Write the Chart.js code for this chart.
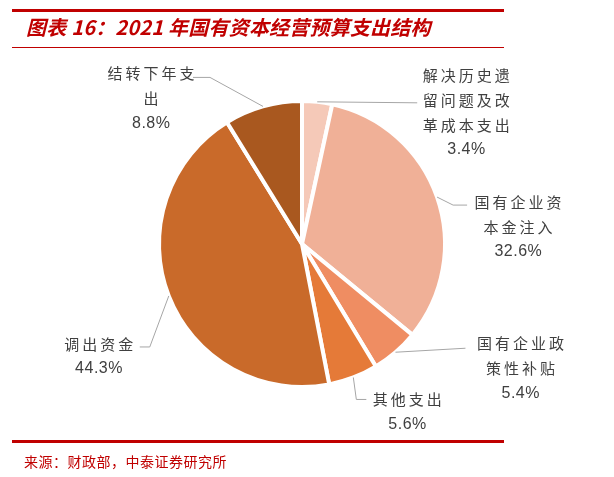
<!DOCTYPE html>
<html>
<head>
<meta charset="utf-8">
<script src="https://cdn.jsdelivr.net/npm/chart.js@4"></script>
<style>
  body { margin: 0; background: #fff; }
  #wrap { position: relative; width: 614px; height: 477px; overflow: hidden; }
  #chart { position: absolute; left: 0; top: 0; }
  .rule { position: absolute; left: 12px; width: 492px; background: #c00000; }
  #title {
    position: absolute; left: 26px; top: 14px;
    font-family: "Noto Sans CJK SC", sans-serif; font-weight: bold; font-style: italic;
    font-size: 20px; line-height: 26px; color: #c00000; white-space: nowrap;
    letter-spacing: 0.2px;
  }
  #source {
    position: absolute; left: 24px; top: 451px;
    font-family: "Noto Sans CJK SC", sans-serif; font-size: 14px; line-height: 20px;
    letter-spacing: 0.5px; color: #c00000; white-space: nowrap;
  }
</style>
</head>
<body>
<div id="wrap">
  <canvas id="chart" width="614" height="477"></canvas>
  <div class="rule" style="top:9px;height:3px"></div>
  <div id="title">图表 16：2021 年国有资本经营预算支出结构</div>
  <div class="rule" style="top:47px;height:1px"></div>
  <div class="rule" style="top:440px;height:3px"></div>
  <div id="source">来源：财政部，中泰证券研究所</div>
</div>
<script>
const categories = [
  "解决历史遗留问题及改革成本支出",
  "国有企业资本金注入",
  "国有企业政策性补贴",
  "其他支出",
  "调出资金",
  "结转下年支出",
];
const shares = [3.4, 32.6, 5.4, 5.6, 44.3, 8.8];
const colors = ["#f5c9b8", "#f0b097", "#ef8d62", "#e57a38", "#c96a2a", "#a9581f"];

// leader line bends and text spot, relative to the point on the slice edge
const labelLayout = [
  { path: [[100, 1]], text: [149, -27] },
  { path: [[16, 8], [30, 8]], text: [81, 5] },
  { path: [[70, -4]], text: [125, -9] },
  { path: [[3, 22], [13, 22]], text: [54, 22] },
  { path: [[-19, 51], [-29, 51]], text: [-70, 48] },
  { path: [[-53, -29], [-70, -29]], text: [-112, -33] },
];

function wrapLabel(s, n) {
  const out = [];
  for (let i = 0; i < s.length; i += n) out.push(s.slice(i, i + n));
  return out;
}

const sliceLabels = {
  id: "sliceLabels",
  afterDatasetsDraw(chart) {
    const ctx = chart.ctx;
    const meta = chart.getDatasetMeta(0);
    meta.data.forEach((arc, i) => {
      const p = arc.getProps(["x", "y", "startAngle", "endAngle", "outerRadius"]);
      const mid = (p.startAngle + p.endAngle) / 2;
      const ax = p.x + Math.cos(mid) * p.outerRadius;
      const ay = p.y + Math.sin(mid) * p.outerRadius;
      const lay = labelLayout[i];

      ctx.save();
      ctx.strokeStyle = "#a6a6a6";
      ctx.lineWidth = 1;
      ctx.beginPath();
      ctx.moveTo(ax, ay);
      lay.path.forEach(([dx, dy]) => ctx.lineTo(ax + dx, ay + dy));
      ctx.stroke();

      const tx = ax + lay.text[0];
      let ty = ay + lay.text[1];
      ctx.fillStyle = "#404040";
      ctx.textAlign = "center";
      ctx.textBaseline = "middle";
      const lines = wrapLabel(categories[i], 5);
      ctx.font = '15px "Noto Sans CJK SC", sans-serif';
      ctx.letterSpacing = "3px";
      lines.forEach((line) => {
        ctx.fillText(line, tx + 1.5, ty);
        ty += 25;
      });
      ctx.font = '16px "Liberation Sans", Arial, sans-serif';
      ctx.letterSpacing = "0.5px";
      ctx.fillText(shares[i].toFixed(1) + "%", tx + 0.25, ty);
      ctx.restore();
    });
  },
};

new Chart(document.getElementById("chart"), {
  type: "pie",
  data: {
    labels: categories,
    datasets: [
      {
        data: shares,
        backgroundColor: colors,
        borderColor: "#ffffff",
        borderWidth: 4,
      },
    ],
  },
  options: {
    responsive: false,
    animation: false,
    layout: { padding: { left: 157, right: 167, top: 99, bottom: 88 } },
    plugins: {
      legend: { display: false },
      tooltip: { enabled: false },
    },
  },
  plugins: [sliceLabels],
});
</script>
</body>
</html>
